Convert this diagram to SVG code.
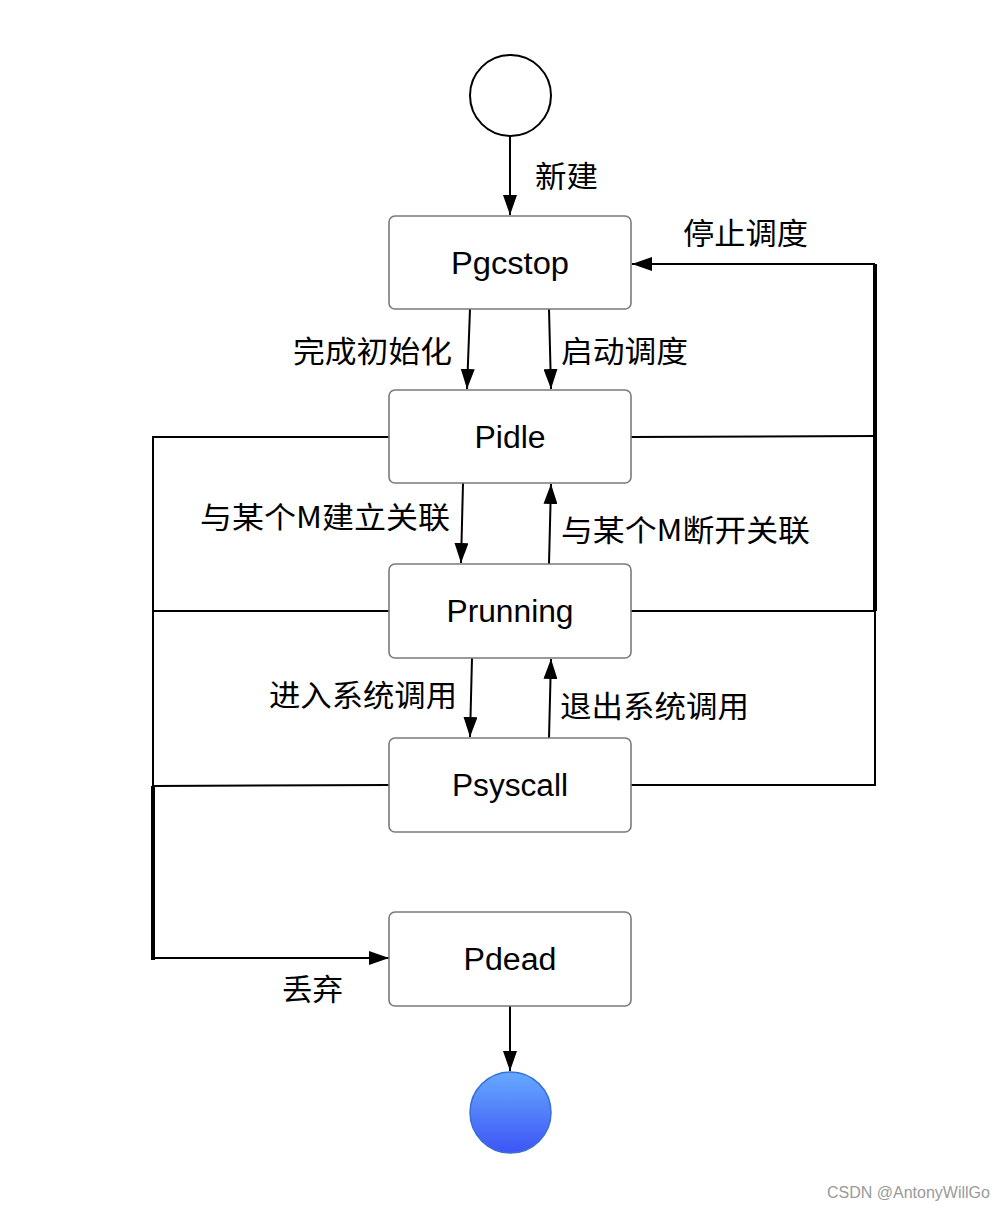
<svg xmlns="http://www.w3.org/2000/svg" width="1008" height="1212" viewBox="0 0 1008 1212">
  <defs>
    <marker id="arr" markerUnits="userSpaceOnUse" markerWidth="20" markerHeight="14" refX="20" refY="7" orient="auto">
      <path d="M0,0 L20,7 L0,14 z" fill="#000"/>
    </marker>
    <linearGradient id="endGrad" x1="0" y1="0" x2="0" y2="1">
      <stop offset="0" stop-color="#66aaff"/>
      <stop offset="1" stop-color="#3d54f6"/>
    </linearGradient>
    <style>
      .box { fill: #fff; stroke: #7a7a7a; stroke-width: 1.6; }
      .name { font-family: "Liberation Sans", Arial, sans-serif; font-size: 31px; fill: #000; text-anchor: middle; }
      .lbl { font-family: "Noto Sans CJK SC", "Liberation Sans", sans-serif; font-size: 30px; fill: #000; }
      .ln { fill: none; stroke: #000; stroke-width: 2; }
      .thick { fill: none; stroke: #000; stroke-width: 4; }
      .wm { font-family: "Liberation Sans", Arial, sans-serif; font-size: 16px; fill: #9a9a9a; }
    </style>
  </defs>
  <rect width="1008" height="1212" fill="#fff"/>

  <g id="connectors">
    <path class="ln" d="M510,136 L510,215" marker-end="url(#arr)"/>
    <path class="ln" d="M470,309 L467,389" marker-end="url(#arr)"/>
    <path class="ln" d="M549,309 L551,389" marker-end="url(#arr)"/>
    <path class="ln" d="M463,483 L461,563" marker-end="url(#arr)"/>
    <path class="ln" d="M549,564 L551,484" marker-end="url(#arr)"/>
    <path class="ln" d="M472,658 L470,737" marker-end="url(#arr)"/>
    <path class="ln" d="M549,738 L551,659" marker-end="url(#arr)"/>
    <path class="ln" d="M510,1006 L510,1071" marker-end="url(#arr)"/>
    <!-- right side: back to Pgcstop -->
    <path class="ln" d="M631,437 L875,436"/>
    <path class="ln" d="M631,611 L875,611"/>
    <path class="ln" d="M631,785 L875,785 L875,611"/>
    <path class="thick" d="M875,611 L875,264"/>
    <path class="ln" d="M875,264 L632,264" marker-end="url(#arr)"/>
    <!-- left side: to Pdead -->
    <path class="ln" d="M389,437 L153,437 L153,786"/>
    <path class="ln" d="M389,611 L153,611"/>
    <path class="ln" d="M389,785 L153,786"/>
    <path class="thick" d="M153,786 L153,960"/>
    <path class="ln" d="M153,958 L389,958" marker-end="url(#arr)"/>
  </g>

  <g id="labels">
    <text class="lbl" x="535" y="187" textLength="63" lengthAdjust="spacingAndGlyphs">新建</text>
    <text class="lbl" x="683" y="244" textLength="125" lengthAdjust="spacingAndGlyphs">停止调度</text>
    <text class="lbl" x="293" y="362" textLength="159" lengthAdjust="spacingAndGlyphs">完成初始化</text>
    <text class="lbl" x="561" y="362" textLength="127" lengthAdjust="spacingAndGlyphs">启动调度</text>
    <text class="lbl" x="200" y="528" textLength="250" lengthAdjust="spacingAndGlyphs">与某个M建立关联</text>
    <text class="lbl" x="561" y="541" textLength="249" lengthAdjust="spacingAndGlyphs">与某个M断开关联</text>
    <text class="lbl" x="269" y="706" textLength="188" lengthAdjust="spacingAndGlyphs">进入系统调用</text>
    <text class="lbl" x="560" y="717" textLength="189" lengthAdjust="spacingAndGlyphs">退出系统调用</text>
    <text class="lbl" x="282" y="1000" textLength="61" lengthAdjust="spacingAndGlyphs">丢弃</text>
  </g>

  <g id="start">
    <circle cx="510.5" cy="95.5" r="40.5" fill="#fff" stroke="#000" stroke-width="2"/>
  </g>
  <g id="Pgcstop">
    <rect class="box" x="389" y="216" width="242" height="93" rx="6"/>
    <text class="name" x="510" y="274" textLength="118" lengthAdjust="spacingAndGlyphs">Pgcstop</text>
  </g>
  <g id="Pidle">
    <rect class="box" x="389" y="390" width="242" height="93" rx="6"/>
    <text class="name" x="510" y="448" textLength="71" lengthAdjust="spacingAndGlyphs">Pidle</text>
  </g>
  <g id="Prunning">
    <rect class="box" x="389" y="564" width="242" height="94" rx="6"/>
    <text class="name" x="510" y="622" textLength="127" lengthAdjust="spacingAndGlyphs">Prunning</text>
  </g>
  <g id="Psyscall">
    <rect class="box" x="389" y="738" width="242" height="94" rx="6"/>
    <text class="name" x="510" y="796" textLength="116" lengthAdjust="spacingAndGlyphs">Psyscall</text>
  </g>
  <g id="Pdead">
    <rect class="box" x="389" y="912" width="242" height="94" rx="6"/>
    <text class="name" x="510" y="970" textLength="93" lengthAdjust="spacingAndGlyphs">Pdead</text>
  </g>
  <g id="end">
    <circle cx="510.5" cy="1112.5" r="40.5" fill="url(#endGrad)" stroke="#3a6fd8" stroke-width="1.5"/>
  </g>

  <text class="wm" x="827" y="1198">CSDN @AntonyWillGo</text>
</svg>
